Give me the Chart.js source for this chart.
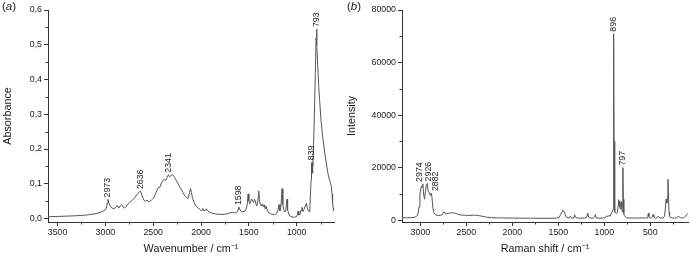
<!DOCTYPE html>
<html>
<head>
<meta charset="utf-8">
<script src="https://cdn.jsdelivr.net/npm/chart.js@4.4.1/dist/chart.umd.min.js"></script>
<style>
  html, body { margin: 0; padding: 0; background: #fff; }
  #wrap { position: relative; width: 691px; height: 262px; overflow: hidden; }
  .panel { position: absolute; top: 0; height: 262px; }
  .tag { position: absolute; top: 0; font: 11.5px "Liberation Sans", Arial, sans-serif; color: #1a1a1a; }
</style>
</head>
<body>
<div id="wrap">
  <div class="panel" style="left:0;width:345px"><canvas id="irChart" width="345" height="262"></canvas></div>
  <div class="panel" style="left:345px;width:346px"><canvas id="ramanChart" width="346" height="262"></canvas></div>
  <div class="tag" style="left:2px">(<i>a</i>)</div>
  <div class="tag" style="left:347px">(<i>b</i>)</div>
</div>
<script>
// IR spectrum (a)
var irWavenumber = [3600, 3500, 3400, 3300, 3200, 3100, 3050, 3020, 3000, 2990, 2980, 2973, 2965, 2950, 2930, 2910, 2890, 2875, 2860, 2845,
  2830, 2815, 2800, 2785, 2770, 2750, 2720, 2700, 2680, 2660, 2645, 2636, 2625, 2610, 2595, 2580, 2565, 2550, 2530, 2510,
  2490, 2470, 2450, 2430, 2410, 2390, 2370, 2355, 2341, 2330, 2315, 2300, 2285, 2270, 2250, 2230, 2210, 2190, 2170, 2150,
  2135, 2120, 2110, 2100, 2090, 2070, 2050, 2030, 2010, 2000, 1990, 1982, 1970, 1955, 1945, 1930, 1910, 1880, 1850, 1800,
  1760, 1720, 1690, 1670, 1650, 1630, 1615, 1605, 1595, 1580, 1560, 1540, 1525, 1515, 1508, 1500, 1490, 1480, 1470, 1460,
  1450, 1440, 1430, 1420, 1410, 1403, 1397, 1390, 1380, 1370, 1360, 1350, 1340, 1330, 1320, 1310, 1290, 1260, 1230, 1210,
  1195, 1185, 1175, 1165, 1153, 1145, 1130, 1115, 1108, 1101, 1095, 1080, 1060, 1040, 1020, 1000, 992, 986, 978, 965,
  955, 945, 935, 925, 915, 905, 898, 890, 880, 870, 862, 855, 850, 845, 840, 835, 830, 825, 815, 805,
  797, 793, 788, 780, 770, 760, 745, 725, 705, 685, 670, 655, 645, 637, 630, 625, 618, 612];
var irAbsorbance = [0.005, 0.006, 0.007, 0.008, 0.010, 0.014, 0.018, 0.022, 0.025, 0.030, 0.045, 0.055, 0.045, 0.035, 0.030, 0.028, 0.033, 0.037, 0.030, 0.036,
  0.040, 0.033, 0.030, 0.034, 0.040, 0.045, 0.052, 0.058, 0.065, 0.072, 0.077, 0.079, 0.074, 0.060, 0.052, 0.050, 0.053, 0.049, 0.050, 0.055,
  0.062, 0.075, 0.088, 0.090, 0.105, 0.112, 0.110, 0.118, 0.126, 0.120, 0.123, 0.127, 0.122, 0.115, 0.105, 0.095, 0.085, 0.075, 0.066, 0.060,
  0.058, 0.075, 0.086, 0.075, 0.060, 0.045, 0.035, 0.030, 0.026, 0.022, 0.025, 0.029, 0.022, 0.024, 0.028, 0.022, 0.018, 0.015, 0.013, 0.012,
  0.012, 0.014, 0.017, 0.018, 0.016, 0.017, 0.022, 0.033, 0.026, 0.020, 0.019, 0.022, 0.030, 0.045, 0.071, 0.050, 0.042, 0.050, 0.056, 0.048,
  0.046, 0.055, 0.048, 0.036, 0.040, 0.060, 0.079, 0.055, 0.040, 0.036, 0.042, 0.034, 0.040, 0.028, 0.036, 0.024, 0.016, 0.012, 0.011, 0.015,
  0.025, 0.040, 0.022, 0.035, 0.086, 0.040, 0.020, 0.020, 0.040, 0.056, 0.025, 0.010, 0.006, 0.004, 0.004, 0.006, 0.012, 0.021, 0.010, 0.012,
  0.024, 0.032, 0.020, 0.025, 0.033, 0.040, 0.044, 0.032, 0.022, 0.020, 0.030, 0.080, 0.110, 0.160, 0.162, 0.130, 0.150, 0.200, 0.300, 0.420,
  0.520, 0.545, 0.500, 0.440, 0.380, 0.340, 0.280, 0.227, 0.185, 0.150, 0.125, 0.110, 0.100, 0.092, 0.070, 0.045, 0.030, 0.022];
var irPeakLabels = ['2973', '2636', '2341', '1598', '839', '793'];
var irPeakAt = [2973, 2636, 2341, 1605, 840, 793];
var irTicksX = [3500, 3000, 2500, 2000, 1500, 1000];
var irMinorX = [3250, 2750, 2250, 1750, 1250, 750];
var irTicksY = [0, 0.1, 0.2, 0.3, 0.4, 0.5, 0.6];
var irMinorY = [0.05, 0.15, 0.25, 0.35, 0.45, 0.55];

// Raman spectrum (b)
var ramanShift = [3200, 3150, 3100, 3060, 3030, 3015, 3005, 2990, 2980, 2974, 2965, 2955, 2945, 2935, 2926, 2915, 2905, 2895, 2885, 2875,
  2865, 2855, 2840, 2820, 2800, 2780, 2760, 2745, 2735, 2720, 2700, 2680, 2650, 2620, 2600, 2580, 2550, 2520, 2480, 2450,
  2420, 2390, 2360, 2330, 2300, 2270, 2230, 2200, 2150, 2100, 2000, 1900, 1800, 1700, 1600, 1520, 1490, 1475, 1460, 1453,
  1445, 1435, 1425, 1410, 1395, 1380, 1370, 1360, 1340, 1330, 1322, 1312, 1290, 1250, 1210, 1190, 1180, 1172, 1150, 1120,
  1105, 1098, 1090, 1060, 1020, 990, 975, 960, 945, 935, 925, 915, 905, 900, 897, 894, 890, 884, 870, 858,
  850, 845, 838, 832, 826, 820, 815, 810, 805, 800, 797, 793, 788, 780, 760, 720, 680, 640, 600, 560,
  535, 525, 520, 515, 505, 490, 478, 470, 462, 445, 425, 413, 405, 390, 360, 345, 335, 328, 320, 313,
  308, 303, 296, 290, 280, 260, 240, 215, 200, 190, 175, 160, 140, 120, 100, 90];
var ramanIntensity = [900, 900, 950, 1100, 1800, 5000, 10000, 13000, 12500, 13800, 10000, 8000, 11000, 13500, 14000, 11000, 10500, 9500, 10300, 9000,
  5000, 3000, 2200, 1800, 1700, 1900, 2100, 3200, 2800, 2400, 2600, 2700, 2800, 2600, 2400, 2100, 1900, 1900, 1800, 1850,
  1900, 1850, 1700, 1500, 1300, 1100, 950, 900, 850, 850, 800, 750, 750, 700, 700, 800, 1100, 2200, 3200, 3800,
  3500, 3300, 2000, 1200, 900, 900, 1500, 900, 800, 1100, 2000, 1000, 800, 750, 800, 1200, 2700, 1200, 800, 800,
  1300, 2100, 900, 750, 800, 900, 1600, 1400, 1800, 1500, 2500, 3200, 4000, 20000, 71000, 30000, 8000, 3000, 2600, 2800,
  5500, 7800, 7200, 5000, 4200, 6500, 7000, 5000, 3200, 12000, 20000, 8000, 2500, 1500, 900, 800, 800, 850, 850, 800,
  900, 2000, 2700, 1500, 900, 800, 1200, 2100, 1200, 800, 900, 1500, 1100, 800, 850, 1500, 5000, 8000, 6500, 9000,
  15500, 10000, 3000, 1500, 1000, 850, 800, 900, 1300, 1400, 1000, 800, 900, 1400, 2100, 2600];
var ramanPeakLabels = ['2974', '2926', '2882', '896', '797'];
var ramanPeakAt = [2974, 2926, 2885, 897, 797];
var ramanLabelAt = [3010, 2916, 2838, 897, 797];
var ramanTicksX = [3000, 2500, 2000, 1500, 1000, 500];
var ramanMinorX = [2750, 2250, 1750, 1250, 750, 250];
var ramanTicksY = [0, 20000, 40000, 60000, 80000];
var ramanMinorY = [10000, 30000, 50000, 70000];

var FONT = '"Liberation Sans", Arial, sans-serif';
var INK = '#1a1a1a';
var AXIS = '#333';
var TRACE = '#555';

Chart.defaults.font.family = FONT;
Chart.defaults.color = INK;

function toPoints(xs, ys) {
    return xs.map(function(x, i) { return { x: x, y: ys[i] }; });
}

function peakTop(points, at, win) {
    var best = null;
    points.forEach(function(p) {
        if (Math.abs(p.x - at) <= win && (best === null || p.y > best)) {
            best = p.y;
        }
    });
    return best;
}

var peakLabelPlugin = {
    id: 'peakLabels',
    afterDatasetsDraw: function(chart, args, opts) {
        var ctx = chart.ctx;
        var xs = chart.scales.x;
        var ys = chart.scales.y;
        var points = chart.data.datasets[0].data;
        ctx.save();
        ctx.font = '8.8px ' + FONT;
        ctx.fillStyle = INK;
        ctx.textAlign = 'left';
        ctx.textBaseline = 'middle';
        opts.labels.forEach(function(text, i) {
            var top = peakTop(points, opts.at[i], 8);
            var px = xs.getPixelForValue(opts.textAt ? opts.textAt[i] : opts.at[i]);
            var py = ys.getPixelForValue(top) - 2;
            ctx.save();
            ctx.translate(px, py);
            ctx.rotate(-Math.PI / 2);
            ctx.fillText(text, 0, 0);
            ctx.restore();
        });
        ctx.restore();
    }
};

var minorTickPlugin = {
    id: 'minorTicks',
    afterDraw: function(chart, args, opts) {
        var ctx = chart.ctx;
        var xs = chart.scales.x;
        var ys = chart.scales.y;
        ctx.save();
        ctx.strokeStyle = AXIS;
        ctx.lineWidth = 1;
        ctx.beginPath();
        opts.x.forEach(function(v) {
            var p = Math.round(xs.getPixelForValue(v)) + 0.5;
            ctx.moveTo(p, xs.top);
            ctx.lineTo(p, xs.top + 2.5);
        });
        opts.y.forEach(function(v) {
            var p = Math.round(ys.getPixelForValue(v)) + 0.5;
            ctx.moveTo(ys.right, p);
            ctx.lineTo(ys.right - 2.5, p);
        });
        ctx.stroke();
        ctx.restore();
    }
};

function makeSpectrum(canvasId, cfg) {
    var ctx = document.getElementById(canvasId).getContext('2d');
    return new Chart(ctx, {
        type: 'line',
        data: {
            datasets: [{
                data: toPoints(cfg.xs, cfg.ys),
                borderColor: TRACE,
                borderWidth: 1,
                pointRadius: 0,
                tension: 0,
                fill: false
            }]
        },
        options: {
            responsive: false,
            animation: false,
            events: [],
            layout: { padding: cfg.padding },
            plugins: {
                legend: { display: false },
                tooltip: { enabled: false },
                peakLabels: cfg.peaks,
                minorTicks: { x: cfg.minorX, y: cfg.minorY }
            },
            scales: {
                x: {
                    type: 'linear',
                    reverse: true,
                    min: cfg.xMin,
                    max: cfg.xMax,
                    afterBuildTicks: function(s) { s.ticks = cfg.ticksX.map(function(v) { return { value: v }; }); },
                    afterFit: function(s) { s.height = 40; },
                    border: { display: true, color: AXIS, width: 1 },
                    grid: { drawOnChartArea: false, drawTicks: true, tickLength: 4, color: AXIS },
                    ticks: { font: { size: 8.8 }, color: INK, padding: 1, maxRotation: 0, autoSkip: false,
                        callback: function(v) { return String(v); } },
                    title: { display: true, text: cfg.xTitle, font: { size: 10.8 }, color: INK, padding: { top: 0, bottom: 6 } }
                },
                y: {
                    type: 'linear',
                    min: cfg.yMin,
                    max: cfg.yMax,
                    afterBuildTicks: function(s) { s.ticks = cfg.ticksY.map(function(v) { return { value: v }; }); },
                    afterFit: function(s) { s.width = cfg.yWidth; },
                    border: { display: true, color: AXIS, width: 1 },
                    grid: { drawOnChartArea: false, drawTicks: true, tickLength: 4, color: AXIS },
                    ticks: { font: { size: 8.8 }, color: INK, padding: 2, autoSkip: false, callback: cfg.yFormat },
                    title: { display: true, text: cfg.yTitle, font: { size: 10.8 }, color: INK, padding: { top: cfg.yTitlePad, bottom: 0 } }
                }
            }
        },
        plugins: [peakLabelPlugin, minorTickPlugin]
    });
}

makeSpectrum('irChart', {
    xs: irWavenumber, ys: irAbsorbance,
    xMin: 610, xMax: 3600, yMin: -0.01, yMax: 0.6,
    ticksX: irTicksX, ticksY: irTicksY, minorX: irMinorX, minorY: irMinorY,
    xTitle: 'Wavenumber / cm\u207B\u00B9', yTitle: 'Absorbance',
    yWidth: 48, yTitlePad: 2,
    padding: { left: 0, right: 11, top: 10, bottom: 0 },
    yFormat: function(v) { return v.toFixed(1).replace('.', ','); },
    peaks: { labels: irPeakLabels, at: irPeakAt }
});

makeSpectrum('ramanChart', {
    xs: ramanShift, ys: ramanIntensity,
    xMin: 90, xMax: 3200, yMin: -700, yMax: 80000,
    ticksX: ramanTicksX, ticksY: ramanTicksY, minorX: ramanMinorX, minorY: ramanMinorY,
    xTitle: 'Raman shift / cm\u207B\u00B9', yTitle: 'Intensity',
    yWidth: 57, yTitlePad: 1,
    padding: { left: 0, right: 3, top: 10, bottom: 0 },
    yFormat: function(v) { return String(v); },
    peaks: { labels: ramanPeakLabels, at: ramanPeakAt, textAt: ramanLabelAt }
});
</script>
</body>
</html>
